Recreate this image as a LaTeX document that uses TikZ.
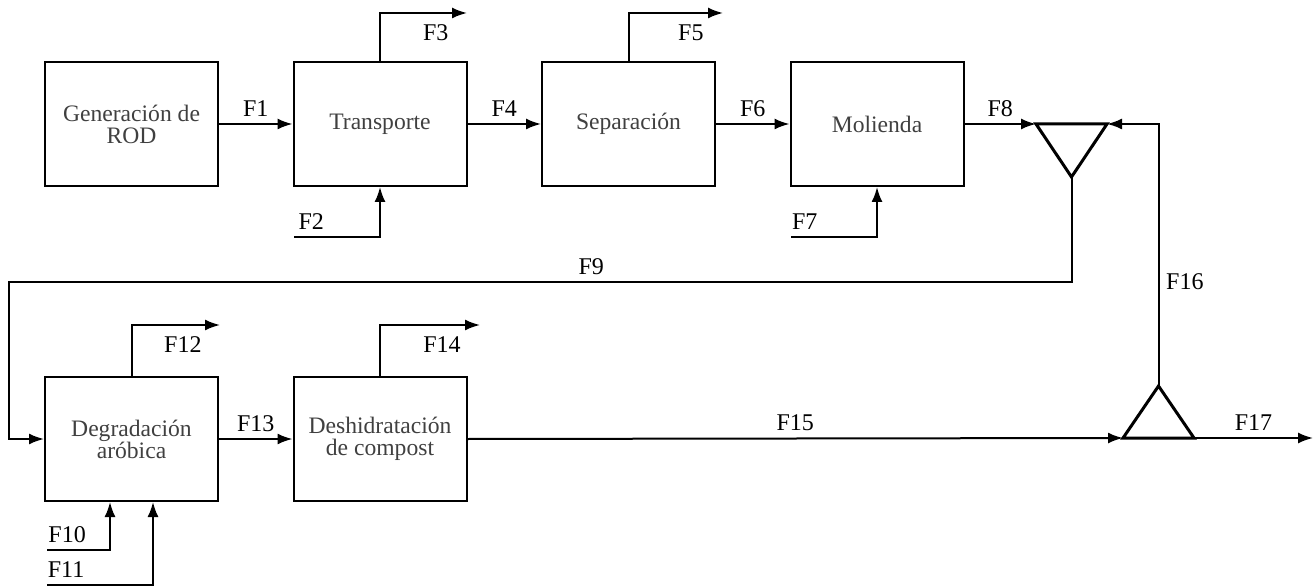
\documentclass[tikz,border=0pt]{standalone}
\usepackage{fontspec}
\setmainfont{Liberation Serif}
\usetikzlibrary{arrows.meta,positioning}

\begin{document}
\begin{tikzpicture}[x=0.5pt,y=-0.5pt,line width=1pt,>={Latex[length=7.5pt,width=5.5pt]},
  node distance=124.25pt,on grid,
  box/.style={draw,minimum width=86.5pt,minimum height=62pt,align=center,
    text=black!75,font=\fontsize{11.8}{11}\selectfont},
  flow/.style={font=\fontsize{12}{14}\selectfont},
  unit/.style={line width=1.5pt,line join=miter}]
  \useasboundingbox (0,0) rectangle (1315,587);

  \node[box]                      (gen) at (131.5,124) {Generación de\\ROD};
  \node[box, right=of gen]        (tra) {Transporte};
  \node[box, right=of tra]        (sep) {Separación};
  \node[box, right=of sep]        (mol) {Molienda};
  \node[box, below=157.5pt of gen] (deg) {Degradación\\aróbica};
  \node[box, right=of deg]        (des) {Deshidratación\\de compost};

  % mixer and splitter
  \coordinate (mixL) at (1036,124);
  \coordinate (mixR) at (1107,124);
  \coordinate (mixB) at (1071.5,177);
  \coordinate (splL) at (1123,438);
  \coordinate (splR) at (1194,438);
  \coordinate (splT) at (1158.5,386);
  \draw[unit] (mixL) -- (mixR) -- (mixB) -- cycle;
  \draw[unit] (splL) -- (splR) -- (splT) -- cycle;

  % free ends
  \coordinate (f2)  at (294,237);
  \coordinate (f3)  at (467,13);
  \coordinate (f5)  at (723,13);
  \coordinate (f7)  at (791,237);
  \coordinate (f9)  at (9,282);
  \coordinate (f10) at (47,550);
  \coordinate (f11) at (47,585);
  \coordinate (f12) at (220,325);
  \coordinate (f14) at (480,325);
  \coordinate (f17) at (1313,438);

  \draw[->] (gen) -- node[flow,above] {F1} (tra);
  \draw[->] (tra) -- node[flow,above] {F4} (sep);
  \draw[->] (sep) -- node[flow,above] {F6} (mol);
  \draw[->] (mol.east) -- node[flow,above] {F8} (mixL);
  \draw[->] (deg) -- node[flow,above] {F13} (des);
  \draw[->] (des.east) -- node[flow,above] {F15} (splL);
  \draw[->] (splR) -- node[flow,above] {F17} (f17);

  \draw[->] (tra.north) |- node[flow,below,pos=0.82,yshift=-2pt] {F3} (f3);
  \draw[->] (sep.north) |- node[flow,below,pos=0.83,yshift=-2pt] {F5} (f5);
  \draw[->] (deg.north) |- node[flow,below,pos=0.79,yshift=-2pt] {F12} (f12);
  \draw[->] (des.north) |- node[flow,below,pos=0.81,yshift=-2pt] {F14} (f14);

  \draw[->] (f2) -| node[flow,above,pos=0.1] {F2} (tra.south);
  \draw[->] (f7) -| node[flow,above,pos=0.08] {F7} (mol.south);
  \draw[->] (f10) -| node[flow,above,pos=0.16] {F10} ([xshift=-10.75pt]deg.south);
  \draw[->] (f11) -| node[flow,above,pos=0.09] {F11} ([xshift=10.75pt]deg.south);

  \draw[->] (mixB) |- node[flow,above,pos=0.726] {F9} (f9) |- (deg.west);
  \draw[->] (splT) |- node[flow,right,pos=0.2] {F16} (mixR);
\end{tikzpicture}
\end{document}
